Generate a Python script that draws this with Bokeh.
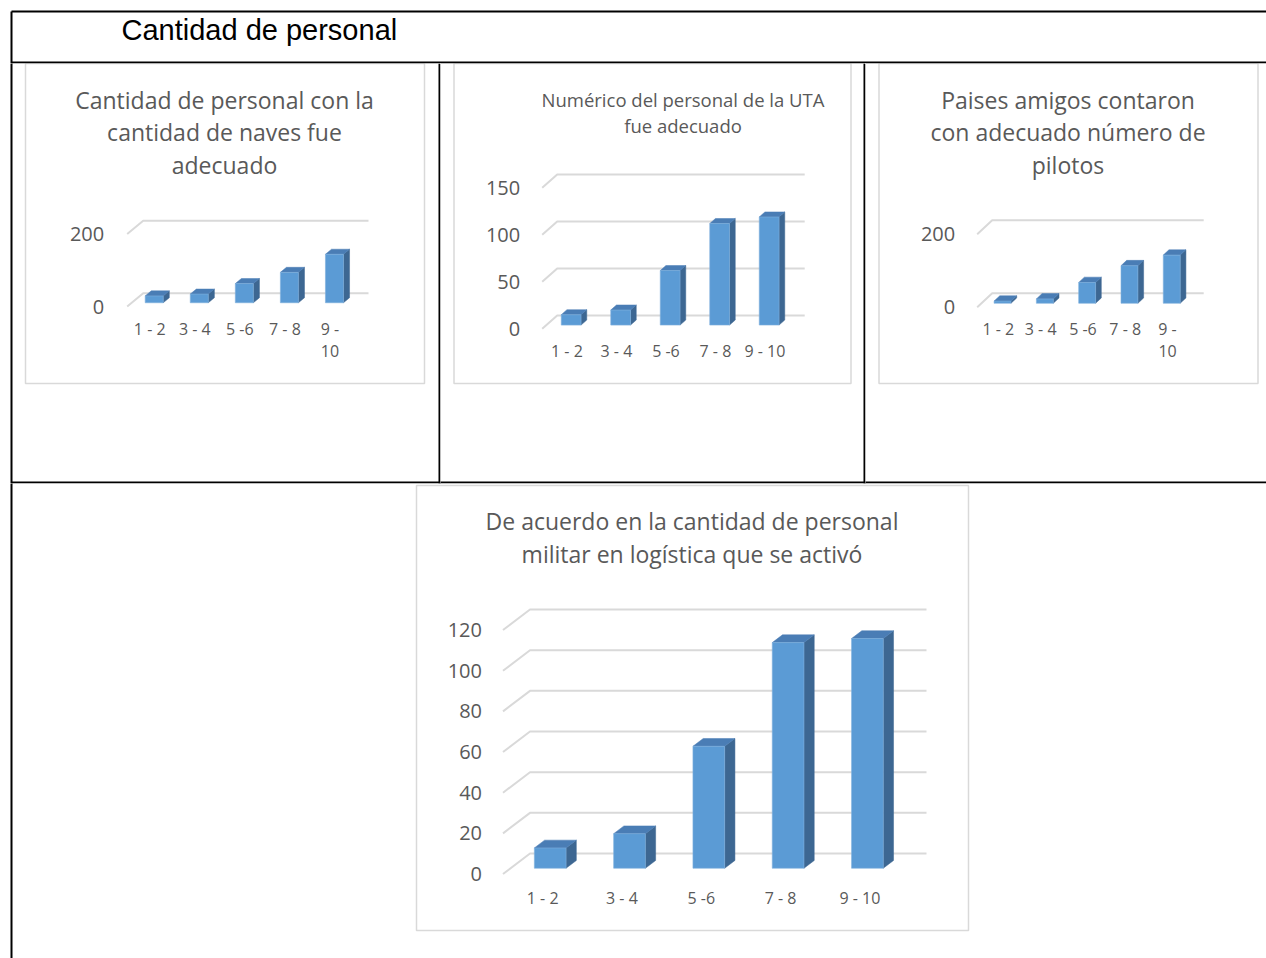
from bokeh.plotting import figure
from bokeh.models import Range1d, LinearAxis, FixedTicker
from bokeh.layouts import column, row
from bokeh.embed import file_html
from bokeh.resources import INLINE
from bokeh.core.properties import value

# ---- data -------------------------------------------------------------
categories = ["1 - 2", "3 - 4", "5 -6", "7 - 8", "9 - 10"]

naves_title = ["Cantidad de personal con la", "cantidad de naves fue", "adecuado"]
naves_values = [19, 24, 53, 84, 134]
naves_ticks = [0, 200]

uta_title = ["Numérico del personal de la UTA", "fue adecuado"]
uta_values = [11, 16, 58, 108, 115]
uta_ticks = [0, 50, 100, 150]

pilotos_title = ["Paises amigos contaron", "con adecuado número de", "pilotos"]
pilotos_values = [6, 12, 57, 103, 132]
pilotos_ticks = [0, 200]

logistica_title = ["De acuerdo en la cantidad de personal", "militar en logística que se activó"]
logistica_values = [10, 17, 60, 111, 113]
logistica_ticks = [0, 20, 40, 60, 80, 100, 120]

header_text = "Cantidad de personal"

# ---- styling ----------------------------------------------------------
FONT = "Open Sans"
GREY_TEXT = "#595959"
GRID = "#d9d9d9"
FRONT = "#5b9bd5"
TOP = "#4a7db5"
SIDE = "#3d6792"
PAGE_W, PAGE_H = 1266, 958

# table rules in page pixels: (x0, y0, x1, y1); each sits wholly inside one cell
RULES = [
    (11, 11, PAGE_W, 11),
    (11, 11, 11, PAGE_H),
    (11, 62, PAGE_W, 62),
    (11, 482, PAGE_W, 482),
    (439, 63, 439, 483),
    (864, 63, 864, 483),
]


def base_fig(w, h, x_range, y_range):
    return figure(width=w, height=h, x_range=x_range, y_range=y_range,
                  x_axis_type=None, y_axis_type=None, toolbar_location=None,
                  output_backend="svg", min_border=0, title=None,
                  outline_line_color=None, background_fill_color="white",
                  border_fill_color="white")


def draw_rules(p, **names):
    p.segment(x0=[r[0] for r in RULES], y0=[r[1] for r in RULES],
              x1=[r[2] for r in RULES], y1=[r[3] for r in RULES],
              line_color="black", line_width=2, **names)


def chart_cell(cell, spec, cats, vals, ticks, title_lines):
    cx0, cy0, cw, ch = cell
    X0, Yf = spec["origin"]
    s, ky = spec["slot"], spec["ky"]
    Dx, Dy = spec["depth"]
    n = len(vals)

    # data ranges chosen so that the category/value scales land on the cell's pixels
    xa = -0.5 - (X0 - cx0) / s
    yb = (Yf - cy0) / ky
    p = base_fig(cw, ch, Range1d(xa, xa + cw / s), Range1d(yb - ch / ky, yb))
    p.extra_x_ranges = {"px": Range1d(cx0, cx0 + cw)}
    p.extra_y_ranges = {"px": Range1d(cy0 + ch, cy0)}
    px = dict(x_range_name="px", y_range_name="px")

    # chart frame
    bx0, by0, bx1, by1 = spec["box"]
    p.quad(left=[bx0], right=[bx1], top=[by0], bottom=[by1], fill_color="white",
           line_color=GRID, line_width=1.5, **px)

    # title
    tx, ty0, dy = spec["title_pos"]
    p.text(x=[tx] * len(title_lines), y=[ty0 + i * dy for i in range(len(title_lines))],
           text=title_lines, text_font=value(FONT), text_font_size=spec["title_size"],
           text_color=GREY_TEXT, text_align="center", text_baseline="middle", **px)

    # depth in data units
    ddx, ddy = Dx / s, Dy / ky
    # 3D gridlines: floor diagonal + back wall
    p.multi_line(xs=[[-0.5, -0.5 + ddx, n - 0.5 + ddx] for _ in ticks],
                 ys=[[t, t + ddy, t + ddy] for t in ticks],
                 line_color=GRID, line_width=2)

    # 3D columns: side, top, then front face
    f, w, b = 0.28, 0.4, 0.38
    xl = [i - w / 2 + f * ddx for i in range(n)]
    xr = [i + w / 2 + f * ddx for i in range(n)]
    base = f * ddy
    tops = [v + base for v in vals]
    p.patches(xs=[[r, r + b * ddx, r + b * ddx, r] for r in xr],
              ys=[[base, base + b * ddy, t + b * ddy, t] for t in tops],
              fill_color=SIDE, line_color=SIDE, line_width=0.5)
    p.patches(xs=[[l, r, r + b * ddx, l + b * ddx] for l, r in zip(xl, xr)],
              ys=[[t, t, t + b * ddy, t + b * ddy] for t in tops],
              fill_color=TOP, line_color=TOP, line_width=0.5)
    p.quad(left=xl, right=xr, bottom=[base] * n, top=tops,
           fill_color=FRONT, line_color="#7fb0de", line_width=0.6)

    yax = LinearAxis(fixed_location=-0.5, ticker=FixedTicker(ticks=ticks),
                     axis_line_color=None, major_tick_line_color=None,
                     minor_tick_line_color=None, major_tick_out=0, major_tick_in=0,
                     major_label_standoff=spec["y_standoff"],
                     major_label_text_color=GREY_TEXT, major_label_text_font=FONT,
                     major_label_text_font_size="20px")
    p.add_layout(yax, "left")
    labels = [c.replace(" - 10", " -\n10") if spec["wrap"] else c for c in cats]
    xax = LinearAxis(fixed_location=0, ticker=FixedTicker(ticks=list(range(n))),
                     major_label_overrides={i: lab for i, lab in enumerate(labels)},
                     axis_line_color=None, major_tick_line_color=None,
                     minor_tick_line_color=None, major_tick_out=0, major_tick_in=0,
                     major_label_standoff=spec["x_standoff"],
                     major_label_text_color=GREY_TEXT, major_label_text_font=FONT,
                     major_label_text_font_size="16px",
                     major_label_text_line_height=1.0)
    p.add_layout(xax, "below")

    draw_rules(p, **px)
    return p


# header row
header = base_fig(PAGE_W, 63, Range1d(0, PAGE_W), Range1d(63, 0))
header.text(x=[121], y=[29.5], text=[header_text], text_font=value("Liberation Sans"),
            text_font_size="29px", text_color="black", text_align="left",
            text_baseline="middle")
draw_rules(header)

spec_naves = dict(origin=(126.7, 306), slot=45.06, ky=0.362, depth=(16, 13.3),
                  box=(25, 63, 424, 383), title_pos=(224, 99, 32.5), title_size="23px",
                  y_standoff=23, x_standoff=11, wrap=True)
spec_uta = dict(origin=(541.7, 328.3), slot=49.5, ky=0.94, depth=(15, 13.3),
                box=(453.5, 63, 850.5, 383), title_pos=(682.5, 99, 25.5), title_size="18.5px",
                y_standoff=22, x_standoff=11, wrap=False)
spec_pilotos = dict(origin=(976.7, 306.7), slot=42.3, ky=0.365, depth=(15, 14),
                    box=(878.5, 63, 1257.5, 383), title_pos=(1067.5, 99, 32.5), title_size="23px",
                    y_standoff=22, x_standoff=11, wrap=True)
spec_logistica = dict(origin=(502.5, 873.5), slot=79.3, ky=2.033, depth=(27, 20.5),
                      box=(416, 485, 968, 930), title_pos=(691.5, 520, 33), title_size="23px",
                      y_standoff=21, x_standoff=13, wrap=False)

c1 = chart_cell((0, 63, 440, 420), spec_naves, categories, naves_values, naves_ticks, naves_title)
c2 = chart_cell((440, 63, 425, 420), spec_uta, categories, uta_values, uta_ticks, uta_title)
c3 = chart_cell((865, 63, 401, 420), spec_pilotos, categories, pilotos_values, pilotos_ticks, pilotos_title)
c4 = chart_cell((0, 483, PAGE_W, 475), spec_logistica, categories, logistica_values,
                logistica_ticks, logistica_title)

page = column(header, row(c1, c2, c3, spacing=0), c4, spacing=0)

with open("out.html", "w") as fh:
    fh.write(file_html(page, INLINE))
